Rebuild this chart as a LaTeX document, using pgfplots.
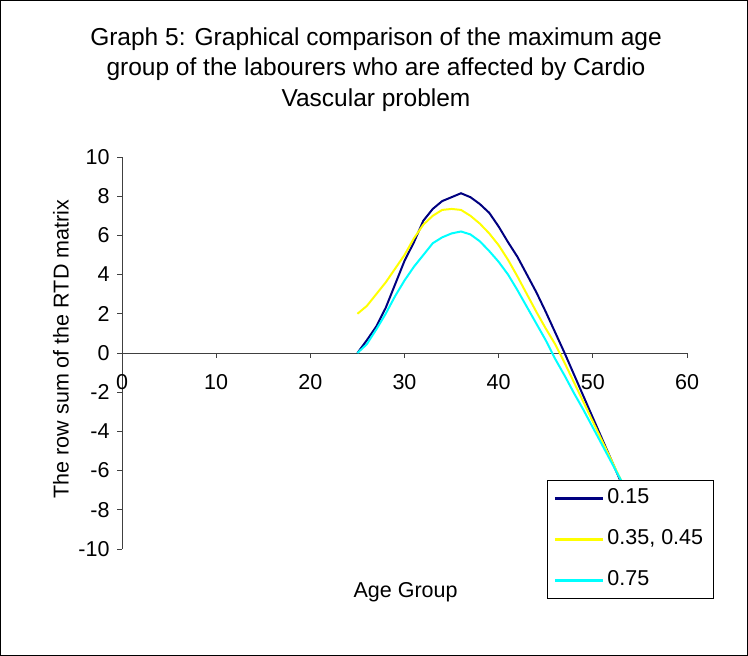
\documentclass[border=0pt]{standalone}
\usepackage{pgfplots}
\pgfplotsset{compat=1.18}
\usepackage{fontspec}
\setmainfont{Liberation Sans}
\definecolor{navyc}{HTML}{000080}
\definecolor{yellowc}{HTML}{FFFF00}
\definecolor{cyanc}{HTML}{00FFFF}
\begin{document}
\begin{tikzpicture}
\draw[black, line width=1bp] (0.5bp,0.5bp) rectangle (747.5bp,655.5bp);
\node[align=center, font=\fontsize{24.5bp}{30.5bp}\selectfont, anchor=center] at (376bp,586.5bp)
 {Graph 5: Graphical comparison of the maximum age\\group of the labourers who are affected by Cardio\\Vascular problem};
\begin{axis}[
  at={(122bp,107bp)}, anchor=south west,
  width=565bp, height=392bp, scale only axis,
  xmin=0, xmax=60, ymin=-10, ymax=10,
  axis x line=middle, axis y line=left,
  axis line style={-, line width=0.8bp, black!75},
  hide obscured x ticks=false, hide obscured y ticks=false,
  xtick={0,10,...,60}, ytick={-10,-8,...,10},
  tick align=outside, major tick length=5bp,
  tick style={line width=0.8bp, black!75},
  /pgf/number format/assume math mode=true,
  ticklabel style={font=\fontsize{21.5bp}{25bp}\selectfont},
  xticklabel style={yshift=-13bp},
  yticklabel style={xshift=-4bp},
  xlabel={Age Group}, ylabel={The row sum of the RTD matrix},
  label style={font=\fontsize{21.5bp}{25bp}\selectfont},
  xlabel style={at={(axis description cs:0.502,-0.11)}, anchor=center},
  ylabel style={at={(axis description cs:-0.108,0.51)}, anchor=center, rotate=0},
  legend style={at={(0.752,0.176)}, anchor=north west, draw=black, line width=0.8bp, fill=white,
    font=\fontsize{21.5bp}{25bp}\selectfont, row sep=17bp, inner xsep=6.5bp, inner ysep=6bp,
    nodes={inner xsep=3.5bp, inner ysep=2bp, text height=15.5bp, text depth=4.5bp}},
  legend cell align=left,
  legend image code/.code={\draw[#1, line width=2.2bp] (0bp,0bp) -- (48bp,0bp);},
  clip=false,
]
\addplot[navyc, line width=2bp] coordinates {
(25,0) (26,0.65) (27,1.35) (28,2.3) (29,3.5) (30,4.7) (31,5.65) (32,6.75) (33,7.35) (34,7.75) (35,7.95) (36,8.15) (37,7.95) (38,7.6) (39,7.15) (40,6.45) (41,5.65) (42,4.9) (43,4.0) (44,3.1) (45,2.1) (46,1.05) (47,0.0) (48,-1.1) (49,-2.2) (50,-3.3) (51,-4.4) (52,-5.5) (53,-6.6) (54,-7.7)};
\addlegendentry{0.15}
\addplot[yellowc, line width=2bp] coordinates {
(25,2.0) (26,2.4) (27,3.0) (28,3.6) (29,4.3) (30,5.0) (31,5.85) (32,6.55) (33,7.0) (34,7.3) (35,7.35) (36,7.3) (37,7.0) (38,6.6) (39,6.1) (40,5.5) (41,4.75) (42,3.9) (43,3.0) (44,2.1) (45,1.25) (46,0.45) (47,-0.5) (48,-1.5) (49,-2.5) (50,-3.5) (51,-4.5) (52,-5.5) (53,-6.5) (54,-7.5)};
\addlegendentry{0.35, 0.45}
\addplot[cyanc, line width=2bp] coordinates {
(25,0) (26,0.45) (27,1.2) (28,2.0) (29,2.9) (30,3.7) (31,4.4) (32,5.0) (33,5.6) (34,5.9) (35,6.1) (36,6.2) (37,6.05) (38,5.7) (39,5.2) (40,4.65) (41,4.0) (42,3.2) (43,2.35) (44,1.5) (45,0.65) (46,-0.3) (47,-1.15) (48,-2.05) (49,-2.9) (50,-3.8) (51,-4.7) (52,-5.6) (53,-6.5) (54,-7.4)};
\addlegendentry{0.75}
\end{axis}
\end{tikzpicture}
\end{document}
